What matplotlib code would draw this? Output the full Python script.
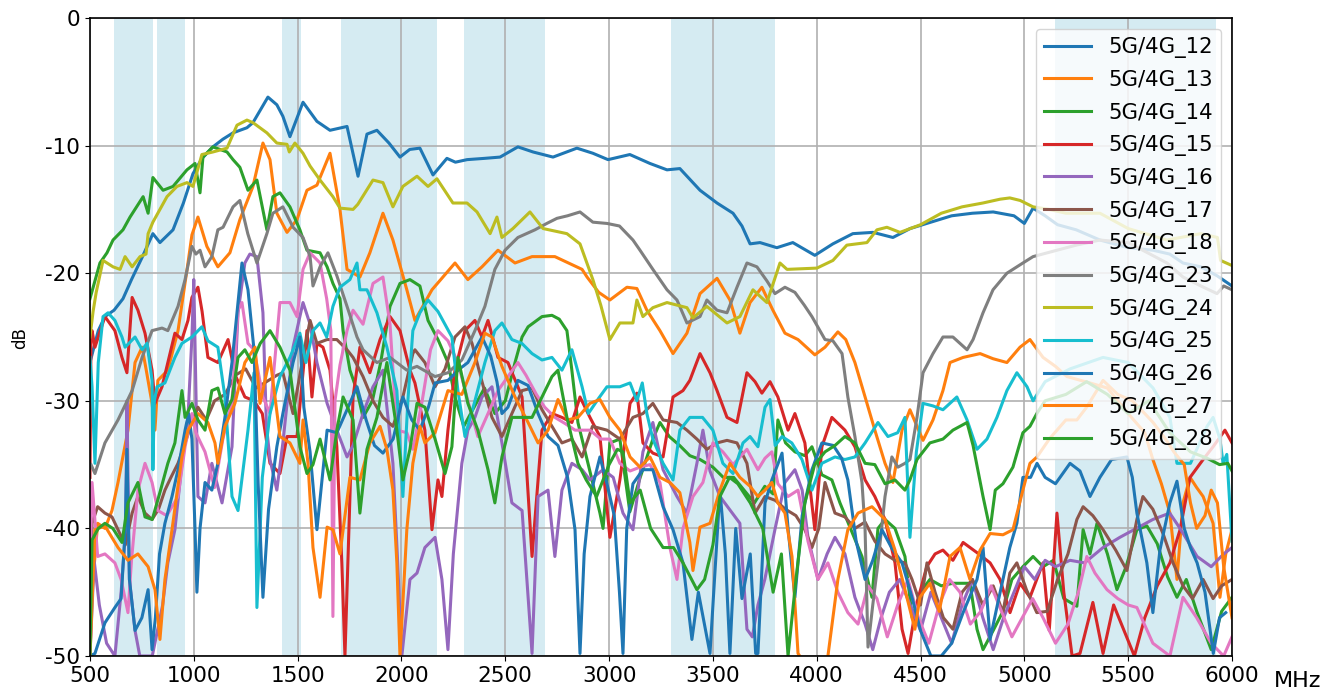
import matplotlib
matplotlib.use("Agg")
import matplotlib.pyplot as plt

plt.rcParams['axes.unicode_minus'] = False
plt.rcParams['font.family'] = ['DejaVu Sans']

# ---------------- data ----------------
bands = [(617, 803), (824, 960), (1427, 1518), (1710, 2170), (2300, 2690), (3300, 3800), (5150, 5925)]
xticks = [500, 1000, 1500, 2000, 2500, 3000, 3500, 4000, 4500, 5000, 5500, 6000]
yticks = [0, -10, -20, -30, -40, -50]

names = ["5G/4G_12", "5G/4G_13", "5G/4G_14", "5G/4G_15", "5G/4G_16", "5G/4G_17", "5G/4G_18",
         "5G/4G_23", "5G/4G_24", "5G/4G_25", "5G/4G_26", "5G/4G_27", "5G/4G_28"]

f12 = [500, 540, 572, 616, 659, 700, 750, 803, 837, 900, 950, 996, 1040, 1092, 1140, 1189, 1256, 1285, 1357, 1400, 1429, 1463, 1526, 1593, 1656, 1738, 1791, 1834, 1882, 1940, 1993, 2040, 2089, 2152, 2219, 2260, 2316, 2400, 2475, 2561, 2634, 2730, 2845, 2922, 2995, 3100, 3197, 3279, 3341, 3438, 3520, 3597, 3640, 3679, 3727, 3808, 3885, 3991, 4078, 4174, 4271, 4367, 4450, 4550, 4650, 4750, 4850, 4950, 5000, 5042, 5100, 5160, 5250, 5364, 5500, 5620, 5700, 5764, 5850, 5928, 6000]
d12 = [-27, -24.5, -23.4, -22.9, -22, -20.5, -18.8, -16.9, -17.6, -16.6, -14.5, -12.2, -11, -10.1, -9.5, -9, -8.6, -8.2, -6.2, -6.8, -7.7, -9.3, -6.6, -8.1, -8.8, -8.5, -12.4, -9.1, -8.8, -9.8, -10.9, -10.3, -10.2, -12.3, -11, -11.3, -11.1, -11, -10.9, -10.1, -10.5, -10.9, -10.2, -10.6, -11.1, -10.7, -11.4, -11.9, -11.8, -13.5, -14.5, -15.3, -16.3, -17.7, -17.6, -18, -17.6, -18.6, -17.7, -16.9, -16.8, -17.2, -16.5, -16, -15.5, -15.3, -15.2, -15.5, -16.1, -14.9, -15.5, -16.2, -16.6, -17.4, -18, -18.2, -18.5, -19.2, -19.5, -20.2, -21]

f13 = [500, 510, 537, 572, 606, 635, 683, 717, 751, 770, 799, 813, 827, 875, 924, 972, 991, 1020, 1063, 1116, 1174, 1222, 1285, 1333, 1367, 1400, 1449, 1497, 1545, 1593, 1656, 1704, 1738, 1800, 1848, 1911, 1959, 2026, 2065, 2147, 2258, 2320, 2388, 2465, 2547, 2629, 2739, 2870, 2894, 2950, 3004, 3086, 3134, 3182, 3245, 3308, 3375, 3438, 3520, 3582, 3630, 3679, 3736, 3789, 3847, 3910, 3991, 4040, 4102, 4140, 4184, 4233, 4280, 4329, 4367, 4411, 4449, 4512, 4560, 4608, 4642, 4705, 4787, 4849, 4916, 4979, 5027, 5090, 5150, 5205, 5316, 5400, 5500, 5580, 5619, 5660, 5701, 5735, 5764, 5798, 5830, 5861, 5909, 5942, 5970, 6000]
d13 = [-50, -45, -39.6, -40, -38.6, -36.4, -32.3, -27, -25.8, -27.5, -30.2, -32.3, -28.4, -27.6, -24.5, -19.2, -17, -15.6, -17.9, -19.5, -18.4, -15.8, -13.2, -9.8, -11.1, -15.3, -16.8, -15.8, -13.5, -13.1, -10.6, -15, -19.7, -20.3, -18.4, -15.3, -17.4, -21.3, -23.7, -21.3, -19.2, -20.5, -19.5, -18.2, -19.2, -18.7, -18.7, -19.7, -20.3, -21.5, -22.1, -21.1, -21.2, -22.9, -24.5, -26.3, -24.7, -21.6, -20.4, -22.1, -24.7, -22.3, -21.1, -22.9, -24.7, -25.2, -26.4, -25.8, -24.6, -25.2, -27, -29.7, -32.3, -34.9, -36.4, -32.3, -30.7, -33.1, -31.5, -29.2, -27, -26.6, -26.3, -26.7, -27, -25.8, -25.2, -26.6, -27.3, -28.1, -28.6, -29, -31, -32.5, -34.6, -36.5, -38.8, -44, -38, -36, -36.8, -37.5, -39.6, -45.4, -42, -40.1]

f14 = [500, 548, 582, 611, 659, 693, 756, 780, 803, 852, 900, 967, 1006, 1030, 1044, 1092, 1160, 1189, 1222, 1261, 1304, 1352, 1381, 1415, 1463, 1511, 1545, 1608, 1642, 1670, 1704, 1719, 1752, 1786, 1815, 1860, 1900, 1945, 1993, 2041, 2089, 2128, 2176, 2224, 2258, 2300, 2350, 2400, 2450, 2500, 2547, 2581, 2610, 2677, 2725, 2760, 2797, 2820, 2850, 2900, 2956, 2971, 3004, 3052, 3100, 3150, 3211, 3245, 3290, 3340, 3389, 3438, 3500, 3550, 3600, 3650, 3700, 3750, 3790, 3813, 3850, 3895, 3943, 3977, 4025, 4073, 4112, 4160, 4218, 4266, 4295, 4329, 4377, 4425, 4460, 4500, 4545, 4600, 4656, 4738, 4772, 4801, 4850, 4897, 4940, 4993, 5042, 5090, 5140, 5190, 5253, 5283, 5316, 5350, 5400, 5446, 5490, 5542, 5590, 5640, 5690, 5735, 5780, 5830, 5900, 5950, 6000]
d14 = [-22, -19.2, -18.4, -17.4, -16.6, -15.6, -14, -15.3, -12.5, -13.5, -13.2, -11.9, -11.4, -13.7, -10.9, -10.1, -10.5, -11.1, -11.7, -13.5, -12.7, -16.6, -14, -13.7, -14.8, -16.6, -18.2, -18.4, -19.5, -20.8, -22, -24.5, -27.6, -29.2, -31.3, -30, -27, -22.6, -20.8, -20.5, -21, -23.7, -25.2, -27, -29.7, -32, -30.5, -29, -31, -30, -27, -25, -24.2, -23.4, -23.3, -23.6, -24.5, -27.5, -31.7, -35, -38.8, -40, -33.3, -33, -38.7, -36, -33, -31.7, -32.8, -33.5, -34.3, -34.6, -35.2, -36, -36, -37, -38, -36.7, -37.3, -31.5, -33.3, -34, -34.3, -33.6, -35.8, -36.2, -38, -39.9, -42.2, -45.4, -40, -39.3, -40, -42.2, -47, -45, -44, -44.5, -44.3, -44.3, -47.9, -49.5, -48, -46.5, -44, -43, -42.2, -43, -42.5, -45.5, -46.1, -40.1, -42, -39.6, -42, -44.8, -43, -40.1, -39.8, -41.2, -43.8, -45.4, -44, -46.5, -49.5, -46.5, -45.4]

f15 = [500, 505, 510, 524, 572, 620, 654, 678, 703, 731, 765, 799, 813, 847, 875, 909, 943, 972, 991, 1020, 1040, 1068, 1116, 1165, 1200, 1246, 1290, 1330, 1367, 1415, 1449, 1497, 1545, 1569, 1593, 1622, 1656, 1689, 1713, 1728, 1742, 1767, 1800, 1848, 1897, 1945, 1993, 2041, 2065, 2113, 2147, 2176, 2195, 2224, 2258, 2306, 2354, 2388, 2417, 2465, 2513, 2581, 2629, 2677, 2725, 2773, 2821, 2860, 2908, 2956, 3004, 3052, 3101, 3134, 3163, 3211, 3260, 3308, 3356, 3389, 3438, 3486, 3520, 3568, 3616, 3664, 3703, 3736, 3775, 3813, 3862, 3895, 3943, 3991, 4025, 4073, 4136, 4184, 4233, 4280, 4329, 4377, 4411, 4440, 4480, 4530, 4570, 4608, 4656, 4705, 4772, 4835, 4883, 4931, 4979, 5027, 5090, 5120, 5157, 5190, 5230, 5268, 5330, 5379, 5430, 5480, 5530, 5580, 5640, 5701, 5750, 5798, 5861, 5909, 5966, 6000]
d15 = [-36, -25, -24.5, -25.8, -23.4, -24.5, -26.6, -27.8, -21.9, -22.9, -24.7, -27.6, -30.2, -28.9, -27, -24.7, -25.2, -23.7, -21.9, -21.1, -23, -26.6, -27, -25.2, -28, -29.7, -30, -31, -34.9, -35.7, -32.8, -32.8, -24.5, -29.7, -25.5, -25.8, -27.6, -33.6, -42.7, -50, -42.7, -29.7, -25.8, -27.8, -25.2, -23.4, -24.5, -27.6, -28.6, -32.3, -40.1, -36.2, -37.5, -32.3, -27.6, -24.5, -23.7, -25, -23.7, -26.6, -27, -29.7, -42.2, -32.3, -31, -31.3, -31.7, -29.7, -31.3, -32.8, -40.7, -36.2, -30.2, -29.4, -33.3, -34.1, -34.4, -29.7, -29.2, -28.4, -26.3, -27.8, -29.2, -31.3, -31.7, -27.8, -28.5, -29.4, -28.5, -29.7, -32.3, -31, -33.3, -40.1, -33.6, -31.3, -32.3, -33.6, -36.2, -37.5, -39.3, -42.7, -47.9, -49.8, -46, -43, -42, -41.7, -42.5, -41.1, -41.9, -42.7, -44, -46.6, -44.3, -45.4, -42.7, -48, -38.8, -45, -50, -49.8, -45.8, -49.8, -46, -48, -50, -47, -44.5, -42.7, -40.1, -36, -34.6, -33.6, -32.3, -33.3]

f16 = [500, 520, 545, 580, 620, 650, 672, 678, 690, 717, 740, 760, 800, 850, 875, 909, 943, 972, 991, 1000, 1020, 1054, 1087, 1136, 1184, 1213, 1246, 1270, 1304, 1333, 1350, 1367, 1400, 1429, 1478, 1526, 1560, 1593, 1642, 1689, 1738, 1767, 1815, 1863, 1911, 1959, 1980, 2002, 2041, 2075, 2113, 2162, 2195, 2224, 2250, 2291, 2320, 2354, 2388, 2436, 2484, 2532, 2581, 2629, 2658, 2706, 2739, 2773, 2821, 2870, 2908, 2971, 3020, 3067, 3115, 3163, 3211, 3260, 3327, 3375, 3423, 3452, 3486, 3534, 3580, 3630, 3664, 3690, 3717, 3750, 3800, 3847, 3895, 3930, 3958, 4006, 4050, 4088, 4136, 4184, 4233, 4270, 4310, 4350, 4400, 4450, 4500, 4550, 4600, 4650, 4700, 4750, 4800, 4850, 4900, 4950, 5000, 5050, 5100, 5150, 5220, 5290, 5379, 5460, 5540, 5619, 5700, 5750, 5832, 5900, 5960, 6000]
d16 = [-50, -42.5, -46, -49, -50, -45, -40, -30, -44, -48, -50, -50, -50, -46, -42.7, -40.1, -34.9, -31.3, -25, -20.5, -37.5, -38, -34.9, -38, -33.6, -23.1, -19.2, -18.5, -18.7, -23.1, -32, -34.6, -37, -33.3, -25.8, -22.3, -24, -27, -30.2, -32.3, -34.4, -33.5, -31, -28.9, -27.6, -34.9, -42, -50, -44, -43.5, -41.5, -40.7, -44, -49.5, -42, -34.9, -32.3, -31.3, -29.7, -28.9, -33.3, -38, -38.6, -49.8, -37.5, -37, -42.2, -37, -34.9, -35.4, -36.2, -35.4, -36, -38.8, -40.1, -34, -31.7, -35.4, -37.5, -38.8, -34.9, -32.3, -35.5, -37.5, -38.5, -39.6, -47.9, -48.5, -46, -44, -40, -36.4, -35.4, -37, -40.7, -44, -42, -40.7, -42, -45.4, -47.5, -49.5, -47, -45, -44, -46, -48, -45, -47, -49, -46, -44, -47, -49.5, -47, -45, -43, -44, -42.5, -43, -42.5, -42.7, -41.5, -40.7, -40, -39.3, -38.8, -40, -42.2, -43, -42, -41.5]

f17 = [500, 510, 537, 572, 606, 635, 670, 703, 731, 765, 799, 830, 861, 890, 924, 958, 991, 1020, 1060, 1100, 1150, 1200, 1250, 1300, 1350, 1400, 1429, 1478, 1526, 1560, 1593, 1642, 1689, 1738, 1767, 1815, 1863, 1911, 1959, 2007, 2055, 2065, 2113, 2162, 2210, 2258, 2306, 2340, 2388, 2436, 2484, 2532, 2581, 2629, 2677, 2725, 2773, 2821, 2870, 2920, 2990, 3052, 3115, 3163, 3211, 3260, 3327, 3375, 3423, 3471, 3520, 3568, 3616, 3664, 3703, 3751, 3800, 3850, 3900, 3943, 3977, 4010, 4040, 4088, 4136, 4184, 4233, 4280, 4329, 4377, 4425, 4459, 4500, 4531, 4570, 4610, 4656, 4700, 4750, 4800, 4850, 4897, 4930, 4964, 5010, 5060, 5110, 5160, 5210, 5253, 5283, 5330, 5379, 5440, 5494, 5542, 5571, 5619, 5670, 5716, 5764, 5810, 5861, 5909, 5950, 6000]
d17 = [-48, -39.6, -38.3, -38.8, -39.1, -40.1, -41.3, -38.8, -37.5, -38.8, -39.3, -38.5, -37, -36, -34.9, -33.3, -31.7, -30.5, -31.5, -30, -29.5, -28, -27.5, -29, -28.5, -28, -27.8, -31, -26.6, -23.7, -25.5, -25.2, -25.2, -26, -26.6, -28.1, -30, -31.3, -32, -29.7, -26.3, -26, -27, -28.9, -27.5, -25, -24.2, -25.5, -28.5, -31.3, -32.8, -31, -29.2, -29, -30.7, -32, -33.3, -33, -34.4, -32, -32.3, -33, -31.3, -31, -30.2, -31.5, -31.7, -32.3, -33, -33.8, -33.3, -33.1, -33.3, -34.9, -38.8, -37.5, -37.8, -38.5, -39, -40.1, -41.5, -40, -36.4, -38.8, -39.1, -40, -39.5, -41, -42, -42.5, -42.7, -44, -46, -42.7, -45, -47, -47.9, -45, -44, -46, -44.5, -46.6, -43.5, -42.7, -44.8, -46.6, -46.5, -44, -42, -39.3, -38.3, -39, -40.1, -41.7, -43.3, -39.3, -37.5, -38.5, -40.5, -42.7, -44.5, -45.5, -44, -45.5, -44.5, -44]

f18 = [500, 510, 537, 572, 620, 650, 683, 700, 731, 765, 799, 827, 870, 924, 958, 991, 1010, 1054, 1100, 1140, 1184, 1213, 1232, 1261, 1290, 1333, 1367, 1415, 1463, 1497, 1526, 1560, 1608, 1640, 1660, 1670, 1680, 1704, 1738, 1767, 1815, 1863, 1911, 1945, 1978, 2026, 2055, 2100, 2140, 2176, 2224, 2272, 2320, 2368, 2417, 2465, 2513, 2561, 2600, 2650, 2690, 2739, 2790, 2836, 2908, 2960, 3004, 3052, 3101, 3149, 3197, 3245, 3293, 3327, 3356, 3404, 3452, 3500, 3548, 3597, 3664, 3717, 3751, 3784, 3813, 3862, 3910, 3958, 4006, 4054, 4102, 4150, 4199, 4247, 4290, 4340, 4390, 4440, 4490, 4540, 4590, 4640, 4690, 4740, 4790, 4840, 4890, 4940, 4990, 5040, 5090, 5150, 5210, 5260, 5301, 5340, 5398, 5450, 5500, 5542, 5619, 5701, 5764, 5830, 5900, 5960, 6000]
d18 = [-44, -36.4, -42.2, -42, -42.7, -44, -46.6, -42.5, -37, -34.9, -36.4, -38.6, -39, -37.5, -33.6, -31, -32.5, -34, -36.8, -33, -30, -22.9, -22.3, -25.5, -26, -29.7, -31, -22.3, -22.3, -23.4, -19.7, -18.4, -19.2, -22, -24.5, -46.9, -30, -27.2, -24.5, -22.9, -24, -20.8, -20.3, -24, -32.3, -32.5, -33.8, -30, -26, -24.5, -25.3, -27, -30, -32.8, -31, -29.2, -28.1, -27, -28, -29.5, -30.5, -31.3, -31.8, -32.3, -32.3, -33, -33, -34.9, -35.5, -35.2, -35, -36.4, -41.5, -44, -40, -37.5, -36.4, -33.3, -34, -35, -33.8, -35.4, -34.5, -34, -36.5, -37.5, -37, -41, -44, -42.7, -45, -46.6, -47.5, -44.5, -45.5, -48.5, -46, -44, -47, -49, -46, -44, -45, -47.5, -46.5, -44.5, -46.5, -48.5, -47, -45.5, -47, -49, -47.5, -45, -42.2, -43.5, -44.8, -45.5, -46, -46.2, -49, -50, -45.4, -47, -49, -50, -48.5]

f23 = [505, 524, 572, 635, 703, 751, 799, 847, 875, 924, 958, 991, 1010, 1030, 1054, 1087, 1116, 1141, 1189, 1222, 1260, 1304, 1352, 1381, 1429, 1478, 1526, 1560, 1574, 1608, 1646, 1689, 1738, 1786, 1815, 1882, 1945, 2026, 2075, 2162, 2224, 2291, 2354, 2402, 2450, 2499, 2561, 2643, 2700, 2749, 2800, 2860, 2922, 2990, 3050, 3115, 3149, 3211, 3279, 3327, 3375, 3438, 3471, 3520, 3568, 3616, 3664, 3712, 3760, 3799, 3847, 3895, 3940, 3977, 4040, 4078, 4122, 4150, 4184, 4218, 4233, 4247, 4270, 4295, 4329, 4362, 4391, 4425, 4449, 4483, 4512, 4560, 4608, 4656, 4724, 4753, 4801, 4849, 4916, 4993, 5042, 5157, 5250, 5364, 5500, 5687, 5764, 5850, 5928, 5960, 6000]
d23 = [-35, -35.7, -33.3, -31.5, -29.2, -26.6, -24.5, -24.3, -24.5, -22.6, -20.5, -17.9, -18.5, -18.2, -19.5, -18.7, -16.6, -16.4, -14.8, -14.3, -16.9, -19.2, -16.9, -15.3, -14.8, -16.4, -17.2, -18.7, -21, -19.5, -18.4, -20.2, -22.6, -25, -26, -27, -26.6, -27.6, -27.3, -28.1, -27.8, -26.8, -24.5, -22.6, -19.7, -18.2, -17.2, -16.6, -16.1, -15.7, -15.5, -15.2, -16, -16.1, -16.3, -17.4, -18.2, -19.7, -21.3, -22.1, -23.9, -23.4, -22.1, -22.9, -23.1, -21.1, -19.2, -19.5, -20.6, -21.6, -21.1, -21.5, -22.5, -23.4, -25.2, -25.3, -26.3, -29.7, -32.8, -36.4, -40.1, -49.3, -46, -42.7, -37.5, -34.4, -35.2, -34.9, -34.6, -31.3, -27.8, -26.3, -25, -25, -26, -25.2, -23.1, -21.3, -20, -19.2, -18.7, -18.2, -17.8, -17.4, -17.6, -19.2, -20.3, -21, -21.6, -21, -21.3]

f24 = [500, 515, 530, 563, 611, 645, 669, 703, 741, 770, 780, 803, 871, 919, 967, 996, 1039, 1092, 1160, 1208, 1256, 1285, 1352, 1400, 1449, 1460, 1487, 1526, 1560, 1608, 1670, 1704, 1767, 1790, 1863, 1911, 1959, 2007, 2075, 2128, 2171, 2248, 2316, 2364, 2427, 2460, 2484, 2537, 2619, 2682, 2797, 2860, 2922, 2960, 3004, 3052, 3115, 3134, 3163, 3211, 3279, 3375, 3404, 3471, 3568, 3630, 3693, 3760, 3823, 3857, 4001, 4078, 4145, 4242, 4290, 4338, 4401, 4500, 4600, 4700, 4800, 4883, 4930, 4980, 5042, 5120, 5200, 5364, 5500, 5687, 5850, 5930, 5945, 6000]
d24 = [-25, -23, -21.5, -19, -19.5, -19.7, -18.7, -19.5, -18.7, -18.5, -16.9, -16, -14, -13.2, -12.9, -13.2, -10.7, -10.5, -10.2, -8.4, -8, -8.2, -9, -9.8, -9.9, -10.5, -9.8, -10.6, -11.6, -12.7, -14, -14.9, -15, -14.6, -12.7, -12.9, -14.8, -13.2, -12.4, -13.2, -12.6, -14.5, -14.5, -15.2, -16.9, -15.6, -17.2, -16.5, -15.2, -16.5, -16.9, -17.7, -20.5, -22.5, -25.2, -23.9, -23.9, -22.1, -23.4, -22.7, -22.3, -22.7, -23.5, -22.6, -23.9, -23.4, -21.3, -22.3, -19.2, -19.7, -19.6, -19, -17.8, -17.6, -16.6, -16.4, -16.8, -16.2, -15.3, -14.8, -14.5, -14.2, -14.1, -14.3, -14.8, -15, -15.3, -15.3, -16.5, -17.4, -16.9, -17.2, -19, -19.4]

f25 = [500, 510, 524, 540, 563, 587, 620, 654, 669, 717, 751, 775, 799, 803, 810, 823, 861, 909, 943, 991, 1039, 1068, 1116, 1150, 1184, 1213, 1261, 1290, 1304, 1330, 1367, 1415, 1463, 1511, 1540, 1574, 1608, 1640, 1670, 1704, 1752, 1786, 1800, 1834, 1882, 1930, 1978, 2007, 2031, 2055, 2089, 2128, 2176, 2243, 2272, 2306, 2354, 2402, 2450, 2484, 2532, 2580, 2629, 2677, 2725, 2773, 2821, 2870, 2900, 2950, 2990, 3052, 3101, 3134, 3160, 3182, 3211, 3260, 3308, 3341, 3389, 3450, 3500, 3548, 3597, 3645, 3679, 3717, 3751, 3775, 3800, 3833, 3880, 3929, 3977, 4025, 4088, 4136, 4184, 4233, 4295, 4343, 4390, 4425, 4449, 4480, 4512, 4560, 4608, 4675, 4724, 4772, 4820, 4868, 4916, 4964, 5013, 5042, 5100, 5220, 5379, 5500, 5620, 5701, 5735, 5800, 5880, 5909, 5942, 5957, 5975, 6000]
d25 = [-26.6, -28.9, -34.9, -27, -23.4, -23.1, -23.7, -25, -25.8, -25, -26, -25.5, -28.4, -35.4, -30, -28.9, -28.6, -26.6, -25.5, -25, -24.2, -25.3, -25.8, -29.7, -37.5, -38.6, -32.3, -27.8, -46.2, -36, -31, -28.1, -26.6, -24.7, -27, -24.5, -23.9, -25, -22.6, -21.1, -20.5, -19.2, -21.3, -21.3, -23.1, -25.8, -29.2, -37.5, -30, -24.5, -23.1, -22.1, -23, -25, -29.2, -32.8, -30, -27, -24.5, -23.9, -25.2, -25.5, -26.3, -26.8, -26.6, -27.6, -26, -28.9, -31, -29.8, -28.9, -28.9, -28.6, -30, -28.6, -31, -33, -34.9, -36.2, -32.3, -31.3, -31.3, -32.3, -34.9, -35.7, -33.3, -32.8, -33.6, -30.5, -29.9, -33.5, -32.8, -33.3, -34.6, -37, -34.9, -34.4, -34.6, -34.4, -33.3, -31.7, -32.8, -32.5, -31.3, -40.7, -34, -30.2, -30.4, -30.7, -29.7, -31.5, -33.8, -33, -31.3, -29.2, -27.8, -28.9, -30, -28.5, -27.5, -26.6, -27, -29, -31.3, -34.9, -34.9, -32, -31.3, -33, -34.9, -34.2, -41]

f26 = [500, 524, 550, 572, 620, 650, 670, 678, 690, 717, 750, 780, 799, 815, 835, 861, 895, 924, 958, 975, 991, 1006, 1015, 1030, 1054, 1087, 1116, 1150, 1184, 1213, 1232, 1261, 1290, 1310, 1333, 1360, 1400, 1429, 1478, 1511, 1530, 1560, 1593, 1642, 1689, 1738, 1786, 1830, 1870, 1911, 1960, 2007, 2050, 2089, 2130, 2162, 2224, 2280, 2320, 2388, 2430, 2460, 2484, 2513, 2561, 2610, 2658, 2706, 2754, 2800, 2836, 2860, 2880, 2908, 2956, 2990, 3025, 3050, 3067, 3085, 3115, 3163, 3211, 3260, 3308, 3356, 3399, 3430, 3486, 3534, 3560, 3582, 3610, 3640, 3680, 3706, 3717, 3751, 3784, 3833, 3862, 3895, 3930, 3977, 4025, 4080, 4120, 4150, 4190, 4233, 4270, 4314, 4360, 4411, 4459, 4500, 4550, 4600, 4650, 4705, 4772, 4801, 4835, 4870, 4897, 4930, 4964, 4993, 5030, 5061, 5100, 5150, 5220, 5268, 5316, 5364, 5420, 5494, 5520, 5542, 5590, 5619, 5653, 5701, 5735, 5770, 5800, 5832, 5870, 5910, 5940, 5970, 6000]
d26 = [-50, -49.8, -48.5, -47.4, -46.2, -45.5, -40, -33.8, -44, -48, -47, -44.8, -49.5, -47, -42, -39.6, -37.5, -35.4, -32.3, -31, -33, -40.1, -45, -40, -36.4, -37, -34.9, -31.3, -27, -22.3, -19.2, -21.3, -26, -36.5, -45.4, -38.5, -33.6, -31, -27, -25, -30.5, -34, -40.1, -32.3, -32.5, -30.7, -28.9, -31.5, -33.5, -34.1, -33, -29.7, -31.5, -32.3, -30.5, -28.6, -28.4, -27.5, -27, -25, -26.5, -28.5, -31, -30.5, -28.4, -28.8, -31, -32.8, -33.5, -36, -40.1, -49.8, -42, -37.5, -34.4, -36.5, -39, -45, -49.8, -40, -36.5, -35.4, -35.4, -38.3, -40.1, -42.7, -48.7, -45, -49.8, -37, -42, -49.8, -40, -45.5, -42, -49.8, -49.8, -38, -36.2, -34.1, -40, -45.4, -39, -35.4, -33.3, -33.5, -34.5, -36.2, -41, -44, -42.5, -40.1, -41.5, -42.7, -45.4, -48, -50, -50, -49, -46.6, -44, -41.5, -48.7, -46, -44, -41.5, -39.6, -36, -36, -34.9, -36, -36.5, -34.9, -35.5, -37.5, -36, -34.6, -34.4, -36, -38.8, -42.7, -46.6, -41.7, -38, -36.3, -40, -41.5, -42.7, -45, -49.8, -47, -46.6]

f27 = [500, 524, 572, 635, 683, 731, 780, 813, 837, 861, 895, 943, 972, 1020, 1068, 1102, 1116, 1150, 1198, 1246, 1295, 1319, 1367, 1415, 1463, 1511, 1526, 1550, 1574, 1608, 1642, 1670, 1704, 1752, 1800, 1848, 1897, 1930, 1959, 1978, 1993, 2026, 2055, 2089, 2113, 2162, 2224, 2291, 2354, 2402, 2436, 2484, 2547, 2610, 2658, 2706, 2754, 2800, 2850, 2908, 2956, 3004, 3052, 3101, 3149, 3197, 3245, 3293, 3341, 3389, 3404, 3438, 3486, 3534, 3582, 3630, 3679, 3717, 3751, 3784, 3813, 3847, 3881, 3910, 3960, 4030, 4054, 4102, 4150, 4199, 4266, 4329, 4377, 4425, 4473, 4497, 4545, 4590, 4642, 4690, 4738, 4787, 4835, 4897, 4945, 4993, 5027, 5061, 5120, 5200, 5253, 5300, 5379, 5450, 5520, 5580, 5620, 5680, 5720, 5770, 5800, 5830, 5870, 5900, 5930, 5960, 6000]
d27 = [-50, -40.1, -39.8, -41.5, -42.5, -42, -43, -44.8, -48.7, -44, -40.1, -34.4, -32.3, -31, -31.7, -33.3, -34.9, -32, -30.2, -27, -25.8, -30.2, -26.6, -32.8, -33.3, -34.9, -31.5, -34.9, -41.5, -45.4, -39.9, -40.1, -42, -36, -36.2, -33.3, -32, -33.8, -37, -42.7, -50, -40.1, -34.9, -32, -33.3, -32.5, -29.2, -29.5, -27, -24.7, -25, -27.3, -29.7, -31.7, -33.3, -32.3, -29.9, -31.5, -31.3, -30.2, -29.9, -31.3, -32.3, -34.4, -35.2, -34.4, -36, -36.4, -37.2, -41.1, -43.3, -39.9, -39.6, -37, -34.9, -36, -36.7, -37.5, -37, -36.4, -38, -38.8, -42.2, -49.8, -51, -51, -50, -44, -40.1, -38.8, -38.3, -39.3, -41.7, -44.8, -47.9, -45.4, -44.3, -46.5, -42.2, -41.5, -44, -41.7, -40.4, -40.5, -40.1, -37, -34.9, -34.4, -33, -31.5, -31.5, -30.5, -28.4, -29.5, -30, -31, -31.7, -33, -34, -35, -38, -40, -39, -37, -38, -43, -47]

f28 = [500, 510, 540, 572, 610, 654, 683, 731, 765, 800, 840, 875, 909, 943, 958, 991, 1020, 1054, 1087, 1116, 1150, 1184, 1213, 1246, 1280, 1320, 1367, 1415, 1463, 1511, 1545, 1574, 1608, 1656, 1689, 1719, 1767, 1800, 1834, 1882, 1930, 1978, 2007, 2041, 2075, 2113, 2162, 2210, 2243, 2272, 2320, 2368, 2417, 2450, 2484, 2532, 2581, 2629, 2677, 2725, 2754, 2797, 2850, 2890, 2940, 3000, 3040, 3067, 3101, 3150, 3200, 3260, 3310, 3356, 3423, 3460, 3500, 3534, 3580, 3620, 3680, 3740, 3790, 3830, 3862, 3900, 3943, 3990, 4040, 4088, 4136, 4184, 4233, 4280, 4329, 4377, 4425, 4449, 4483, 4545, 4608, 4656, 4724, 4753, 4801, 4835, 4860, 4897, 4945, 4993, 5027, 5060, 5100, 5200, 5300, 5400, 5500, 5600, 5700, 5800, 5880, 5940, 5980, 6000]
d28 = [-50, -40.9, -40, -39.6, -40, -41.1, -38, -36.4, -39.1, -39.3, -37, -34.9, -33.3, -29.2, -31.3, -30.2, -31.5, -32.3, -29.2, -29, -31, -29.9, -26.6, -26, -27, -25.5, -24.5, -25.8, -27.6, -33.6, -35.7, -35, -33, -36.2, -32.3, -29.7, -31.5, -38.8, -33.8, -31.3, -27, -32.3, -36.2, -33.8, -30.2, -30.5, -33, -35.7, -33.6, -26.6, -30.2, -32.3, -35.4, -38, -34.4, -31.3, -31.3, -31.3, -29.7, -28.1, -27.6, -31.3, -34.9, -36.2, -37.5, -35, -33.8, -34, -38, -37, -40, -41.5, -41.5, -42.7, -44.8, -44, -41.3, -37.5, -36, -36.5, -38, -40, -45, -42, -50, -44, -38, -35, -34, -33.5, -32.8, -33.3, -34.9, -35, -36.5, -36.2, -37, -36.2, -34.6, -33.3, -33, -32.3, -31.7, -33.5, -37.5, -40.1, -37, -36.5, -35.2, -32.5, -32, -31, -30, -29.5, -28.5, -29.5, -31, -30, -32.5, -34, -34.5, -35, -34.9, -35.5]

series_f = [f12, f13, f14, f15, f16, f17, f18, f23, f24, f25, f26, f27, f28]
series_d = [d12, d13, d14, d15, d16, d17, d18, d23, d24, d25, d26, d27, d28]

# ---------------- figure ----------------
fig = plt.figure(figsize=(13.27, 6.95), dpi=100)
ax = fig.add_axes([0.0678, 0.0561, 0.8606, 0.918])

for lo, hi in bands:
    ax.axvspan(lo, hi, color='lightblue', alpha=0.5, lw=0)

colors = plt.rcParams['axes.prop_cycle'].by_key()['color']
for i, (name, fx, dy) in enumerate(zip(names, series_f, series_d)):
    n = min(len(fx), len(dy))
    if len(fx) != len(dy):
        print("length mismatch", name, len(fx), len(dy))
    ax.plot(fx[:n], dy[:n], color=colors[i % 10], lw=2.2, label=name)

ax.set_xlim(500, 6000)
ax.set_ylim(-50, 0)
ax.set_xticks(xticks)
ax.set_yticks(yticks)
ax.tick_params(labelsize=15.5)
ax.grid(True, color='#b0b0b0', lw=1.2)
for s in ax.spines.values():
    s.set_linewidth(1.2)

ax.legend(loc='upper right', fontsize=15.3, handlelength=2.2, labelspacing=0.55)
fig.text(1274 / 1327, 1 - 681 / 695, 'MHz', fontsize=16, va='center', ha='left')
fig.text(20 / 1327, 1 - 338 / 695, 'dB', fontsize=12, rotation=90, va='center', ha='center')

fig.savefig('out.png', dpi=100)
